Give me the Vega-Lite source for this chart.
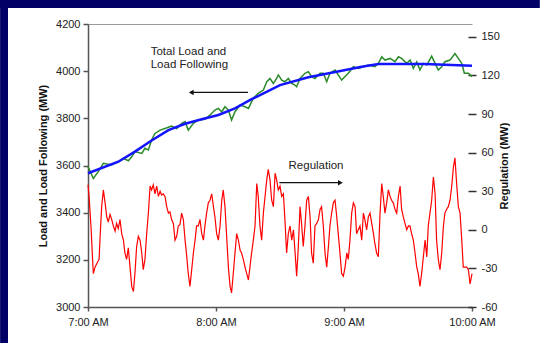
{
  "$schema": "https://vega.github.io/schema/vega-lite/v6.json",
  "width": 384,
  "height": 283,
  "autosize": {"type": "none"},
  "padding": {"left": 88, "top": 24, "right": 68, "bottom": 36},
  "background": "white",
  "config": {
    "view": {"stroke": null},
    "axis": {
      "labelFont": "Liberation Sans",
      "titleFont": "Liberation Sans",
      "labelFontSize": 11,
      "labelColor": "#222",
      "titleColor": "#111",
      "titleFontSize": 11,
      "titleFontWeight": "bold",
      "grid": false,
      "zindex": 2
    },
    "text": {"font": "Liberation Sans"}
  },
  "datasets": {
    "load": [
      {"m":0,"v":3595},{"m":2.5,"v":3545},{"m":4.8,"v":3574},{"m":7.2,"v":3609},{"m":11.1,"v":3602},{"m":14.2,"v":3616},{"m":16.6,"v":3630},{"m":18.9,"v":3620},{"m":20.5,"v":3637},{"m":22,"v":3659},{"m":25.2,"v":3651},{"m":26.7,"v":3673},{"m":28.3,"v":3666},{"m":29.8,"v":3708},{"m":31.4,"v":3736},{"m":33.8,"v":3750},{"m":36.1,"v":3757},{"m":39.2,"v":3767},{"m":41.6,"v":3757},{"m":43.9,"v":3779},{"m":45.5,"v":3786},{"m":47,"v":3750},{"m":49.4,"v":3779},{"m":51.7,"v":3793},{"m":54.8,"v":3796},{"m":57.2,"v":3814},{"m":59.5,"v":3835},{"m":61.1,"v":3842},{"m":62.7,"v":3828},{"m":64.2,"v":3849},{"m":65.8,"v":3835},{"m":67.3,"v":3793},{"m":68.9,"v":3828},{"m":71.3,"v":3856},{"m":73.6,"v":3849},{"m":75.2,"v":3842},{"m":77.5,"v":3885},{"m":79.8,"v":3906},{"m":82.2,"v":3920},{"m":83.8,"v":3955},{"m":85.3,"v":3969},{"m":86.9,"v":3948},{"m":88.4,"v":3969},{"m":89.2,"v":3984},{"m":90.8,"v":3962},{"m":92.3,"v":3955},{"m":93.9,"v":3969},{"m":95.5,"v":3948},{"m":97,"v":3941},{"m":97.8,"v":3934},{"m":99.4,"v":3969},{"m":101.7,"v":3991},{"m":103.3,"v":3998},{"m":104.8,"v":3977},{"m":106.4,"v":3969},{"m":108.8,"v":3991},{"m":110.3,"v":3991},{"m":111.9,"v":3955},{"m":113.4,"v":3991},{"m":115.8,"v":4005},{"m":117.3,"v":3984},{"m":118.9,"v":3962},{"m":120.5,"v":3977},{"m":122,"v":3991},{"m":124.4,"v":4019},{"m":126.7,"v":4012},{"m":129.1,"v":4019},{"m":131.4,"v":4026},{"m":134.5,"v":4019},{"m":136.1,"v":4033},{"m":137.7,"v":4061},{"m":139.2,"v":4047},{"m":141.6,"v":4054},{"m":143.9,"v":4040},{"m":145.5,"v":4061},{"m":147,"v":4054},{"m":149.4,"v":4033},{"m":151,"v":4047},{"m":152.5,"v":4012},{"m":154.1,"v":4040},{"m":155.6,"v":4005},{"m":157.2,"v":4033},{"m":158.8,"v":4026},{"m":161.1,"v":4064},{"m":162.7,"v":4033},{"m":164.2,"v":4005},{"m":165.8,"v":4019},{"m":167.3,"v":4040},{"m":169.7,"v":4047},{"m":172,"v":4075},{"m":173.6,"v":4054},{"m":175.2,"v":4033},{"m":176.4,"v":3991},{"m":178.3,"v":3991},{"m":180,"v":3977}
    ],
    "following": [
      {"m":0,"v":3567},{"m":14.2,"v":3616},{"m":22,"v":3659},{"m":29.8,"v":3706},{"m":37.7,"v":3750},{"m":45.5,"v":3777},{"m":53.3,"v":3796},{"m":61.1,"v":3814},{"m":68.9,"v":3842},{"m":76.7,"v":3881},{"m":90,"v":3941},{"m":103.3,"v":3974},{"m":118.9,"v":4002},{"m":128.3,"v":4019},{"m":136.1,"v":4030},{"m":158,"v":4030},{"m":180,"v":4023}
    ],
    "reg": [
      {"m":0,"v":35},{"m":0.5,"v":26},{"m":1.4,"v":3},{"m":2.0,"v":-18},{"m":2.5,"v":-34},{"m":3.3,"v":-29},{"m":4.5,"v":-25},{"m":5.2,"v":-23},{"m":5.6,"v":-8},{"m":6.4,"v":18},{"m":7.2,"v":31},{"m":8.0,"v":21},{"m":8.8,"v":10},{"m":9.5,"v":6},{"m":10.3,"v":12},{"m":11.1,"v":8},{"m":11.9,"v":3},{"m":12.7,"v":-1},{"m":13.4,"v":5},{"m":14.2,"v":1},{"m":15.0,"v":8},{"m":15.8,"v":-3},{"m":16.6,"v":-8},{"m":17.3,"v":-18},{"m":18.1,"v":-23},{"m":18.9,"v":-14},{"m":19.7,"v":-29},{"m":20.5,"v":-44},{"m":21.3,"v":-48},{"m":22.0,"v":-34},{"m":22.8,"v":-13},{"m":23.6,"v":-5},{"m":24.4,"v":-8},{"m":25.2,"v":-18},{"m":25.9,"v":-31},{"m":26.7,"v":-23},{"m":27.5,"v":-3},{"m":28.3,"v":13},{"m":29.1,"v":34},{"m":29.8,"v":31},{"m":30.6,"v":35},{"m":31.4,"v":28},{"m":32.2,"v":34},{"m":33.0,"v":26},{"m":33.8,"v":30},{"m":34.5,"v":27},{"m":35.3,"v":28},{"m":36.1,"v":26},{"m":36.9,"v":18},{"m":37.7,"v":13},{"m":38.4,"v":14},{"m":39.2,"v":8},{"m":40.0,"v":5},{"m":40.8,"v":-8},{"m":41.6,"v":-5},{"m":42.3,"v":3},{"m":43.1,"v":4},{"m":43.9,"v":13},{"m":44.7,"v":8},{"m":45.5,"v":-8},{"m":46.3,"v":-21},{"m":47.0,"v":-34},{"m":47.8,"v":-44},{"m":48.6,"v":-31},{"m":49.4,"v":-18},{"m":50.2,"v":-8},{"m":50.9,"v":3},{"m":51.7,"v":3},{"m":52.5,"v":8},{"m":53.3,"v":-3},{"m":54.1,"v":-8},{"m":54.8,"v":3},{"m":55.6,"v":13},{"m":56.4,"v":21},{"m":57.2,"v":23},{"m":58.0,"v":28},{"m":58.8,"v":18},{"m":59.5,"v":10},{"m":60.3,"v":-3},{"m":61.1,"v":-8},{"m":61.9,"v":3},{"m":62.7,"v":23},{"m":63.4,"v":31},{"m":64.2,"v":18},{"m":65.0,"v":-5},{"m":65.8,"v":-29},{"m":66.6,"v":-44},{"m":67.3,"v":-49},{"m":68.1,"v":-34},{"m":68.9,"v":-18},{"m":69.7,"v":-3},{"m":70.5,"v":-8},{"m":71.3,"v":-16},{"m":72.0,"v":-18},{"m":72.8,"v":-23},{"m":73.6,"v":-29},{"m":74.4,"v":-34},{"m":75.2,"v":-39},{"m":75.9,"v":-29},{"m":76.7,"v":-18},{"m":77.5,"v":-8},{"m":78.3,"v":3},{"m":79.1,"v":36},{"m":79.8,"v":26},{"m":80.6,"v":3},{"m":81.4,"v":-8},{"m":82.2,"v":13},{"m":83.0,"v":26},{"m":83.8,"v":39},{"m":84.5,"v":47},{"m":85.3,"v":39},{"m":86.1,"v":23},{"m":86.9,"v":18},{"m":87.7,"v":44},{"m":88.4,"v":39},{"m":89.2,"v":31},{"m":90.0,"v":34},{"m":90.8,"v":26},{"m":91.6,"v":28},{"m":92.3,"v":8},{"m":93.1,"v":-18},{"m":93.9,"v":-3},{"m":94.7,"v":3},{"m":95.5,"v":-8},{"m":96.3,"v":0},{"m":97.0,"v":-16},{"m":97.8,"v":-36},{"m":98.6,"v":-13},{"m":99.4,"v":18},{"m":100.2,"v":3},{"m":100.9,"v":-13},{"m":101.7,"v":3},{"m":102.5,"v":23},{"m":103.3,"v":26},{"m":104.1,"v":10},{"m":104.8,"v":-18},{"m":105.6,"v":-26},{"m":106.4,"v":3},{"m":107.2,"v":5},{"m":108.0,"v":8},{"m":108.8,"v":16},{"m":109.5,"v":18},{"m":110.3,"v":3},{"m":111.1,"v":-18},{"m":111.9,"v":-29},{"m":112.7,"v":-13},{"m":113.4,"v":3},{"m":114.2,"v":13},{"m":115.0,"v":21},{"m":115.8,"v":23},{"m":116.6,"v":10},{"m":117.3,"v":-3},{"m":118.1,"v":-18},{"m":118.9,"v":-34},{"m":119.7,"v":-36},{"m":120.5,"v":-29},{"m":121.3,"v":-18},{"m":122.0,"v":-23},{"m":122.8,"v":-8},{"m":123.6,"v":13},{"m":124.4,"v":21},{"m":125.2,"v":18},{"m":125.9,"v":-3},{"m":126.7,"v":0},{"m":127.5,"v":3},{"m":128.3,"v":-8},{"m":129.1,"v":13},{"m":129.8,"v":8},{"m":130.6,"v":0},{"m":131.4,"v":10},{"m":132.2,"v":13},{"m":133.0,"v":5},{"m":133.8,"v":-3},{"m":134.5,"v":-11},{"m":135.3,"v":-18},{"m":136.1,"v":-21},{"m":136.9,"v":13},{"m":137.7,"v":36},{"m":138.4,"v":26},{"m":139.2,"v":13},{"m":140.0,"v":21},{"m":140.8,"v":31},{"m":141.6,"v":26},{"m":142.3,"v":23},{"m":143.1,"v":21},{"m":143.9,"v":16},{"m":144.7,"v":13},{"m":145.5,"v":26},{"m":146.3,"v":34},{"m":147.0,"v":16},{"m":147.8,"v":10},{"m":148.6,"v":5},{"m":149.4,"v":0},{"m":150.2,"v":3},{"m":150.9,"v":3},{"m":151.7,"v":-3},{"m":152.5,"v":-8},{"m":153.3,"v":-18},{"m":154.1,"v":-29},{"m":154.8,"v":-34},{"m":155.6,"v":-44},{"m":156.4,"v":-34},{"m":157.2,"v":-21},{"m":158.0,"v":-8},{"m":158.8,"v":-21},{"m":159.5,"v":3},{"m":160.3,"v":13},{"m":161.1,"v":23},{"m":161.9,"v":41},{"m":162.7,"v":28},{"m":163.4,"v":-8},{"m":164.2,"v":-23},{"m":165.0,"v":-31},{"m":165.8,"v":-18},{"m":166.6,"v":3},{"m":167.3,"v":13},{"m":168.1,"v":16},{"m":168.9,"v":18},{"m":169.7,"v":23},{"m":170.5,"v":34},{"m":171.3,"v":49},{"m":172.0,"v":56},{"m":172.8,"v":36},{"m":173.6,"v":18},{"m":174.4,"v":13},{"m":175.2,"v":-8},{"m":175.9,"v":-29},{"m":176.7,"v":-29},{"m":177.5,"v":-29},{"m":178.3,"v":-31},{"m":179.1,"v":-42},{"m":180,"v":-34}
    ]
  },
  "layer": [
    {
      "layer": [
        {
          "data": {"values": [{}]},
          "mark": {"type": "rect", "color": "#000066", "clip": false},
          "encoding": {
            "x": {"datum": -41.2, "type": "quantitative", "scale": {"domain": [0, 180]}},
            "x2": {"datum": 211.8},
            "y": {"datum": 4301.5, "type": "quantitative", "scale": {"domain": [3000, 4200]}},
            "y2": {"datum": 4268}
          }
        },
        {
          "data": {"values": [{}]},
          "mark": {"type": "rect", "color": "#000066", "clip": false},
          "encoding": {
            "x": {"datum": -41.2, "type": "quantitative"},
            "x2": {"datum": -37.5},
            "y": {"datum": 4301.5, "type": "quantitative"},
            "y2": {"datum": 2847.5}
          }
        },
        {
          "data": {"name": "load"},
          "mark": {"type": "line", "color": "#2a8a2a", "strokeWidth": 1.5},
          "encoding": {
            "x": {
              "field": "m", "type": "quantitative", "scale": {"domain": [0, 180]},
              "axis": {
                "orient": "bottom", "values": [0, 60, 120, 180],
                "labelExpr": "['7:00 AM','8:00 AM','9:00 AM','10:00 AM'][datum.value/60]",
                "title": null, "tickSize": 4, "tickColor": "#555", "tickWidth": 1.5,
                "domainColor": "#555", "domainWidth": 1.5, "labelPadding": 5, "labelFlush": false
              }
            },
            "y": {
              "field": "v", "type": "quantitative", "scale": {"domain": [3000, 4200]},
              "axis": {
                "orient": "left", "values": [3000, 3200, 3400, 3600, 3800, 4000, 4200], "format": "d",
                "title": "Load and Load Following (MW)", "tickSize": 5, "tickColor": "#555", "tickWidth": 1.5,
                "domainColor": "#555", "domainWidth": 1.5, "labelPadding": 3, "titlePadding": 7
              }
            }
          }
        },
        {
          "data": {"name": "following"},
          "mark": {"type": "line", "color": "#1414ff", "strokeWidth": 2.5},
          "encoding": {
            "x": {"field": "m", "type": "quantitative"},
            "y": {"field": "v", "type": "quantitative"}
          }
        },
        {
          "data": {"values": [{}]},
          "mark": {"type": "text", "text": "Total Load and", "align": "left", "baseline": "middle", "fontSize": 11.5, "color": "#222"},
          "encoding": {
            "x": {"datum": 29.4, "type": "quantitative"},
            "y": {"datum": 4082, "type": "quantitative"}
          }
        },
        {
          "data": {"values": [{}]},
          "mark": {"type": "text", "text": "Load Following", "align": "left", "baseline": "middle", "fontSize": 11.5, "color": "#222"},
          "encoding": {
            "x": {"datum": 29.4, "type": "quantitative"},
            "y": {"datum": 4026, "type": "quantitative"}
          }
        },
        {
          "data": {"values": [{}]},
          "mark": {"type": "rule", "color": "#111", "strokeWidth": 1.2},
          "encoding": {
            "x": {"datum": 48, "type": "quantitative"},
            "x2": {"datum": 75},
            "y": {"datum": 3910, "type": "quantitative"}
          }
        },
        {
          "data": {"values": [{}]},
          "mark": {"type": "point", "shape": "triangle-left", "filled": true, "color": "#111", "size": 30, "opacity": 1},
          "encoding": {
            "x": {"datum": 48.4, "type": "quantitative"},
            "y": {"datum": 3910, "type": "quantitative"}
          }
        },
        {
          "data": {"values": [{}]},
          "mark": {"type": "text", "text": "Regulation", "align": "left", "baseline": "middle", "fontSize": 11.5, "color": "#222"},
          "encoding": {
            "x": {"datum": 94.0, "type": "quantitative"},
            "y": {"datum": 3598, "type": "quantitative"}
          }
        },
        {
          "data": {"values": [{}]},
          "mark": {"type": "rule", "color": "#111", "strokeWidth": 1.2},
          "encoding": {
            "x": {"datum": 89.7, "type": "quantitative"},
            "x2": {"datum": 118.5},
            "y": {"datum": 3527, "type": "quantitative"}
          }
        },
        {
          "data": {"values": [{}]},
          "mark": {"type": "point", "shape": "triangle-right", "filled": true, "color": "#111", "size": 30, "opacity": 1},
          "encoding": {
            "x": {"datum": 118.3, "type": "quantitative"},
            "y": {"datum": 3527, "type": "quantitative"}
          }
        }
      ]
    },
    {
      "data": {"name": "reg"},
      "mark": {"type": "line", "color": "#ff0000", "strokeWidth": 1.2},
      "encoding": {
        "x": {
          "field": "m", "type": "quantitative", "scale": {"domain": [0, 180]},
          "axis": {"orient": "top", "labels": false, "ticks": false, "title": null, "domainColor": "#9a9a9a", "domainWidth": 1.2}
        },
        "y": {
          "field": "v", "type": "quantitative", "scale": {"domain": [-60, 160]},
          "axis": {
            "orient": "right", "values": [-60, -30, 0, 30, 60, 90, 120, 150],
            "labelExpr": "toString(datum.value)",
            "title": "Regulation (MW)", "titleAngle": 270, "domain": false,
            "tickSize": 8, "offset": -4, "tickColor": "#333", "tickWidth": 1.5,
            "labelPadding": 5, "titlePadding": 10
          }
        }
      }
    }
  ],
  "resolve": {"scale": {"x": "independent", "y": "independent"}}
}
